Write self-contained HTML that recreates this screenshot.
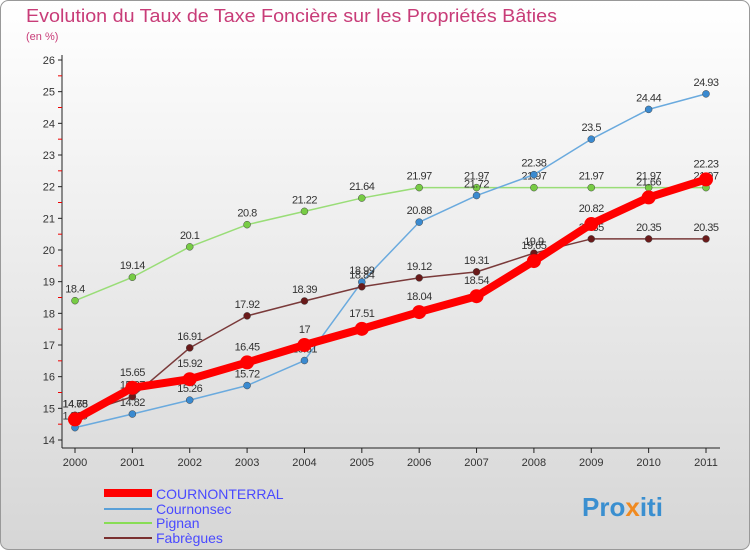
<!DOCTYPE html>
<html><head><meta charset="utf-8"><style>
body{margin:0;width:750px;height:550px;overflow:hidden;font-family:"Liberation Sans",sans-serif}
</style></head><body>
<svg width="750" height="550" xmlns="http://www.w3.org/2000/svg">
<defs><linearGradient id="bg" x1="0" y1="0" x2="0" y2="1"><stop offset="0" stop-color="#ffffff"/><stop offset="1" stop-color="#d6d6d6"/></linearGradient></defs>
<rect x="0.5" y="0.5" width="749" height="549" rx="8" fill="url(#bg)" stroke="#999"/>
<text x="26" y="22" font-size="18" fill="#c83c78" textLength="531" lengthAdjust="spacingAndGlyphs">Evolution du Taux de Taxe Foncière sur les Propriétés Bâties</text>
<text x="26" y="40" font-size="11" fill="#c83c78">(en %)</text>
<g id="axes"></g><g id="series"></g>
<g>
<line x1="104" y1="493" x2="152" y2="493" stroke="#ff0000" stroke-width="8"/>
<text x="156" y="499" font-size="14" fill="#4a4aff">COURNONTERRAL</text>
<line x1="104" y1="509" x2="152" y2="509" stroke="#5aa0d8" stroke-width="2"/>
<text x="156" y="514" font-size="14" fill="#4a4aff">Cournonsec</text>
<line x1="104" y1="523" x2="152" y2="523" stroke="#88dd55" stroke-width="2"/>
<text x="156" y="528" font-size="14" fill="#4a4aff">Pignan</text>
<line x1="104" y1="538" x2="152" y2="538" stroke="#7a3030" stroke-width="2"/>
<text x="156" y="543" font-size="14" fill="#4a4aff">Fabrègues</text>
</g>
<text x="582" y="516" font-size="26" font-weight="bold" fill="#3a8fd0">Pro<tspan fill="#f08a20">x</tspan>iti</text>
</svg>
<script>
const years=[2000,2001,2002,2003,2004,2005,2006,2007,2008,2009,2010,2011];
const cournonterral=[14.65,15.65,15.92,16.45,17,17.51,18.04,18.54,19.65,20.82,21.66,22.23];
const cournonsec=[14.39,14.82,15.26,15.72,16.51,18.99,20.88,21.72,22.38,23.5,24.44,24.93];
const pignan=[18.4,19.14,20.1,20.8,21.22,21.64,21.97,21.97,21.97,21.97,21.97,21.97];
const fabregues=[14.78,15.37,16.91,17.92,18.39,18.84,19.12,19.31,19.9,20.35,20.35,20.35];
const yTicks=[14,15,16,17,18,19,20,21,22,23,24,25,26];
const NS="http://www.w3.org/2000/svg";
const x=i=>75+i*(706-75)/(years.length-1);
const y=v=>440-(v-14)*(380/12);
function mk(tag,attrs,parent){const e=document.createElementNS(NS,tag);for(const k in attrs)e.setAttribute(k,attrs[k]);parent.appendChild(e);return e;}
const ax=document.getElementById('axes');
let a=mk('line',{x1:62,y1:55,x2:62,y2:448,stroke:'#222'},ax);


a=mk('line',{x1:62,y1:448,x2:720,y2:448,stroke:'#222'},ax);


yTicks.forEach(t=>{
 mk('line',{x1:58,y1:y(t),x2:62,y2:y(t),stroke:'#222'},ax);
 if(t<26)mk('line',{x1:58,y1:y(t+0.5),x2:62,y2:y(t+0.5),stroke:'#e00'},ax);
 const tx=mk('text',{x:55,y:y(t)+4,'font-size':11,'text-anchor':'end',fill:'#333'},ax);
 tx.textContent=t;
 
 
});
years.forEach((yr,i)=>{
 mk('line',{x1:x(i),y1:448,x2:x(i),y2:453,stroke:'#222'},ax);
 const tx=mk('text',{x:x(i),y:466,'font-size':11,'text-anchor':'middle',fill:'#333'},ax);
 tx.textContent=yr;
 
 
});
const sg=document.getElementById('series');
function draw(vals,name,color,w,r,dot,dy){
 const g=mk('g',{},sg);
 
 
 const pl=mk('polyline',{points:vals.map((v,i)=>x(i)+','+y(v)).join(' '),fill:'none',stroke:color,'stroke-width':w,'stroke-linejoin':'round'},g);
 
 
 vals.forEach((v,i)=>{
  const c=mk('circle',{cx:x(i),cy:y(v),r:r,fill:dot,stroke:w>4?'none':'#444','stroke-width':0.5},g);
  
  
  const t=mk('text',{x:x(i),y:y(v)+dy,'font-size':11,'text-anchor':'middle',fill:'#333','letter-spacing':'-0.5'},g);
  t.textContent=v;
  
  
 });
}
draw(pignan,'pignan','#99dd77',1.5,3.5,'#77cc44',-8);
draw(cournonsec,'cournonsec','#6aaade',1.5,3.5,'#3a8ad0',-8);
draw(fabregues,'fabregues','#7a3a3a',1.5,3.5,'#6a1a1a',-8);
draw(cournonterral,'cournonterral','#ff0000',8,7,'#ff0000',-12);
</script>
</body></html>
